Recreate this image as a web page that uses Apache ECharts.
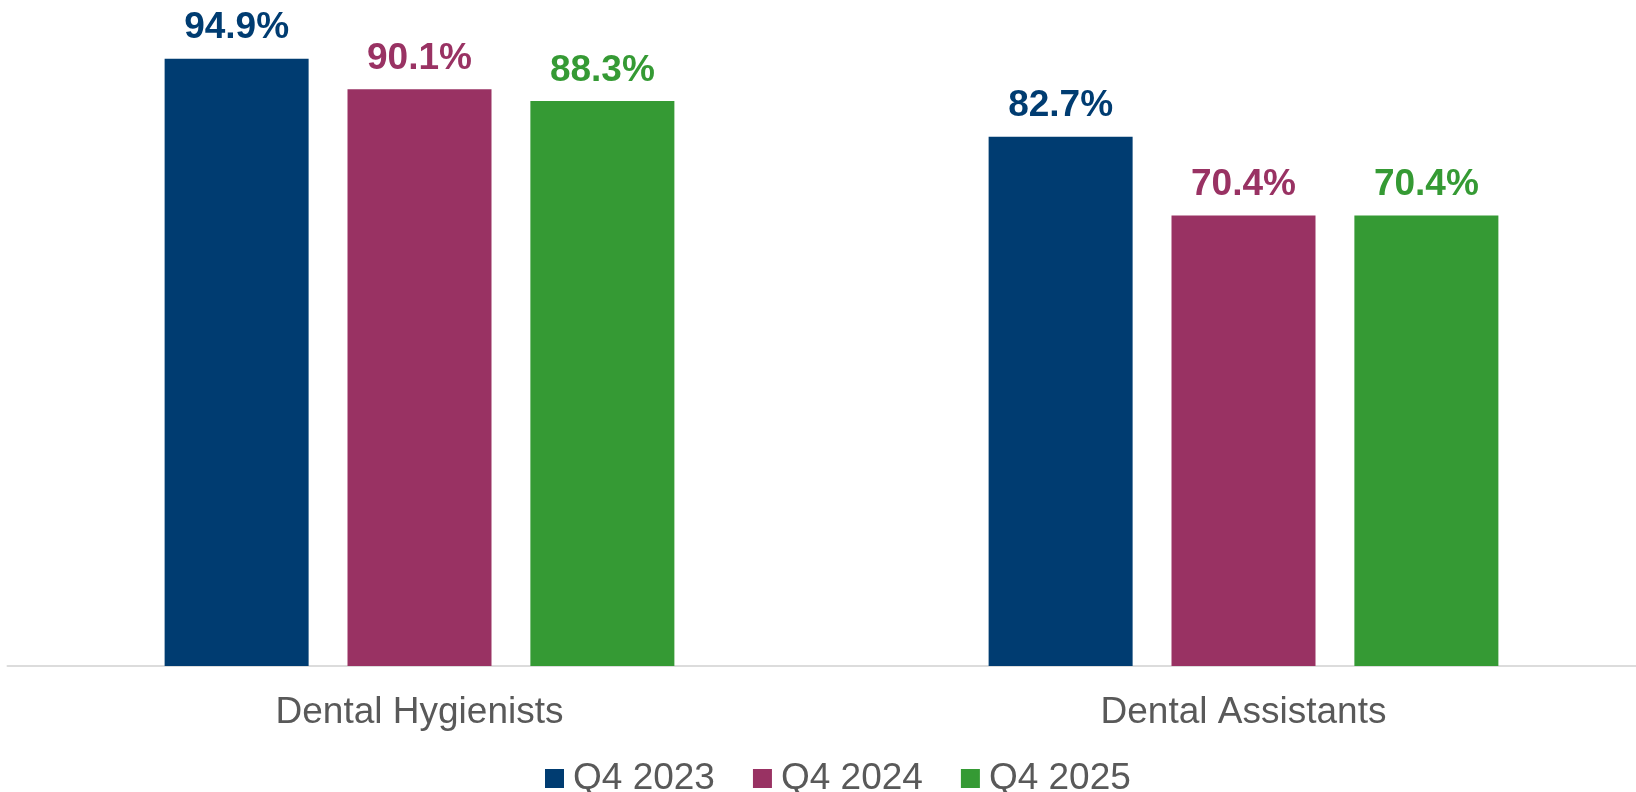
<!DOCTYPE html>
<html>
<head>
<meta charset="utf-8">
<title>Dental staff</title>
<script src="https://cdn.jsdelivr.net/npm/echarts@6/dist/echarts.min.js"></script>
<style>
html, body {
    margin: 0;
    padding: 0;
    background: #fff;
}

#chart {
    width: 1636px;
    height: 792px;
}
</style>
</head>
<body>
<div id="chart"></div>
<script>
const categories = ['Dental Hygienists', 'Dental Assistants']
const seriesNames = ['Q4 2023', 'Q4 2024', 'Q4 2025']
const q42023 = [94.9, 82.7]
const q42024 = [90.1, 70.4]
const q42025 = [88.3, 70.4]

const colors = ['#003c71', '#993263', '#359a34']
const font = '"Liberation Sans", Arial, sans-serif'

function makeSeries (name, data, color) {
    return {
        name: name,
        type: 'bar',
        barWidth: 144,
        barGap: '27%',
        itemStyle: { color: color },
        label: {
            show: true,
            position: 'top',
            distance: 12,
            color: color,
            fontFamily: font,
            fontWeight: 'bold',
            fontSize: 37,
            formatter: p => p.value.toFixed(1) + '%'
        },
        data: data
    }
}

const chart = echarts.init(document.getElementById('chart'))

const option = {
    animation: false,
    grid: {
        top: 26,
        left: 7.5,
        width: 1648,
        height: 640,
        outerBoundsMode: 'none'
    },
    legend: {
        left: 540,
        top: 755,
        itemWidth: 19,
        itemHeight: 19,
        itemGap: 38,
        icon: 'rect',
        textStyle: {
            color: '#595959',
            fontFamily: font,
            fontSize: 37,
            padding: [0, 0, 0, 4]
        },
        data: seriesNames
    },
    xAxis: {
        type: 'category',
        data: categories,
        axisLine: {
            lineStyle: { color: '#dcdcdc', width: 2 }
        },
        axisTick: { show: false },
        axisLabel: {
            color: '#595959',
            fontFamily: font,
            fontSize: 37,
            margin: 28
        }
    },
    yAxis: {
        type: 'value',
        min: 0,
        max: 100,
        show: false,
        splitLine: { show: false }
    },
    series: [
        makeSeries(seriesNames[0], q42023, colors[0]),
        makeSeries(seriesNames[1], q42024, colors[1]),
        makeSeries(seriesNames[2], q42025, colors[2])
    ]
}

chart.setOption(option)
</script>
</body>
</html>
